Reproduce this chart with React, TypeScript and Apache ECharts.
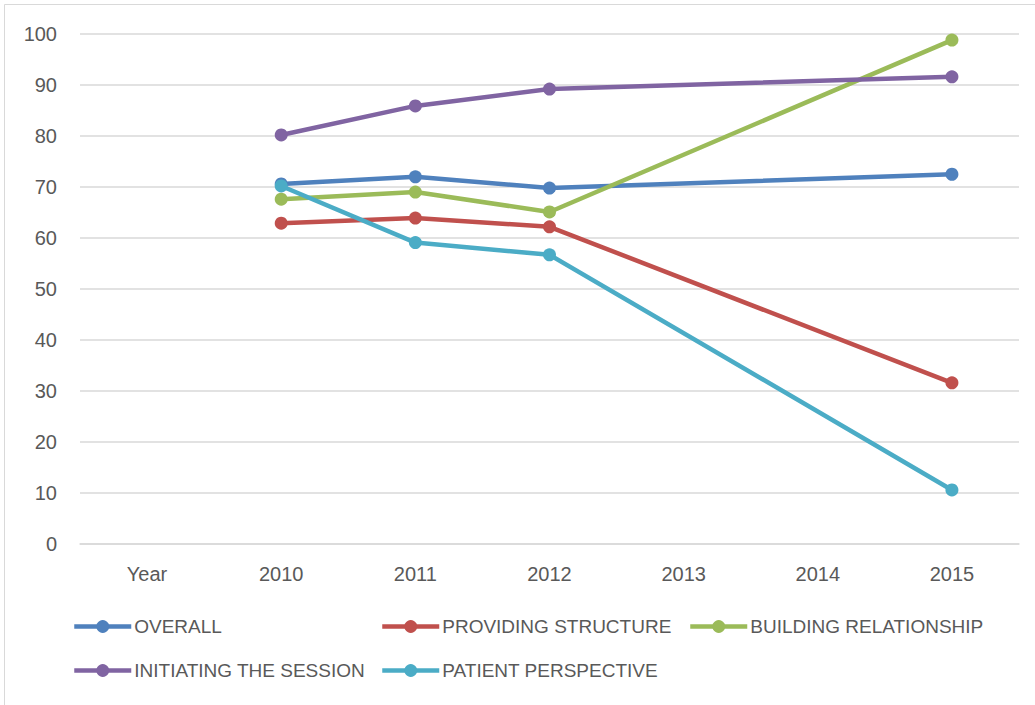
import React, { useEffect, useRef } from "react";
import * as echarts from "echarts";

const categories = ["Year", "2010", "2011", "2012", "2013", "2014", "2015"];
const overall = [null, 70.6, 72.0, 69.8, null, null, 72.5];
const providingStructure = [null, 62.9, 63.9, 62.2, null, null, 31.6];
const buildingRelationship = [null, 67.6, 69.0, 65.1, null, null, 98.8];
const initiatingSession = [null, 80.2, 85.9, 89.2, null, null, 91.6];
const patientPerspective = [null, 70.2, 59.1, 56.7, null, null, 10.6];

const seriesNames = [
  "OVERALL",
  "PROVIDING STRUCTURE",
  "BUILDING RELATIONSHIP",
  "INITIATING THE SESSION",
  "PATIENT PERSPECTIVE",
];
const seriesData = [overall, providingStructure, buildingRelationship, initiatingSession, patientPerspective];
const colors = ["#4F81BD", "#C0504D", "#9BBB59", "#8064A2", "#4BACC6"];

const legendPos = [
  { left: 72, top: 617 },
  { left: 380, top: 617 },
  { left: 688, top: 617 },
  { left: 72, top: 661 },
  { left: 380, top: 661 },
];

const FONT = "'Liberation Sans', Arial, sans-serif";

export default function App() {
  const ref = useRef<HTMLDivElement>(null);
  useEffect(() => {
    if (!ref.current) return;
    const chart = echarts.init(ref.current, null, { renderer: "svg" });
    chart.setOption({
      animation: false,
      backgroundColor: "#ffffff",
      grid: { left: 80, right: 16, top: 34, bottom: 161, containLabel: false },
      xAxis: {
        type: "category",
        data: categories,
        boundaryGap: true,
        axisLine: { show: true, lineStyle: { color: "#d9d9d9", width: 1.5 } },
        axisTick: { show: false },
        axisLabel: { color: "#595959", fontSize: 20, fontFamily: FONT, margin: 20 },
      },
      yAxis: {
        type: "value",
        min: 0,
        max: 100,
        interval: 10,
        axisLine: { show: false },
        axisTick: { show: false },
        splitLine: { lineStyle: { color: "#d9d9d9", width: 1.5 } },
        axisLabel: { color: "#595959", fontSize: 20, fontFamily: FONT, margin: 23 },
      },
      legend: seriesNames.map((n, i) => ({
        data: [n],
        left: legendPos[i].left,
        top: legendPos[i].top,
        itemWidth: 57,
        itemHeight: 16,
        padding: 0,
        lineStyle: { width: 4.5 },
        textStyle: { color: "#595959", fontSize: 19, fontFamily: FONT, padding: [0, 0, 0, -2] },
      })),
      graphic: [
        { type: "line", shape: { x1: 4.5, y1: 4.5, x2: 4.5, y2: 705 }, style: { stroke: "#d9d9d9", lineWidth: 1 } },
        { type: "line", shape: { x1: 4.5, y1: 4.5, x2: 1035, y2: 4.5 }, style: { stroke: "#d9d9d9", lineWidth: 1 } },
      ],
      series: seriesNames.map((n, i) => ({
        name: n,
        type: "line",
        data: seriesData[i],
        connectNulls: true,
        symbol: "circle",
        symbolSize: 13,
        color: colors[i],
        lineStyle: { width: 4.5, color: colors[i] },
        itemStyle: { color: colors[i] },
      })),
    });
    return () => chart.dispose();
  }, []);
  return (
    <div
      ref={ref}
      style={{ position: "absolute", left: 0, top: 0, width: 1035, height: 705 }}
    />
  );
}
